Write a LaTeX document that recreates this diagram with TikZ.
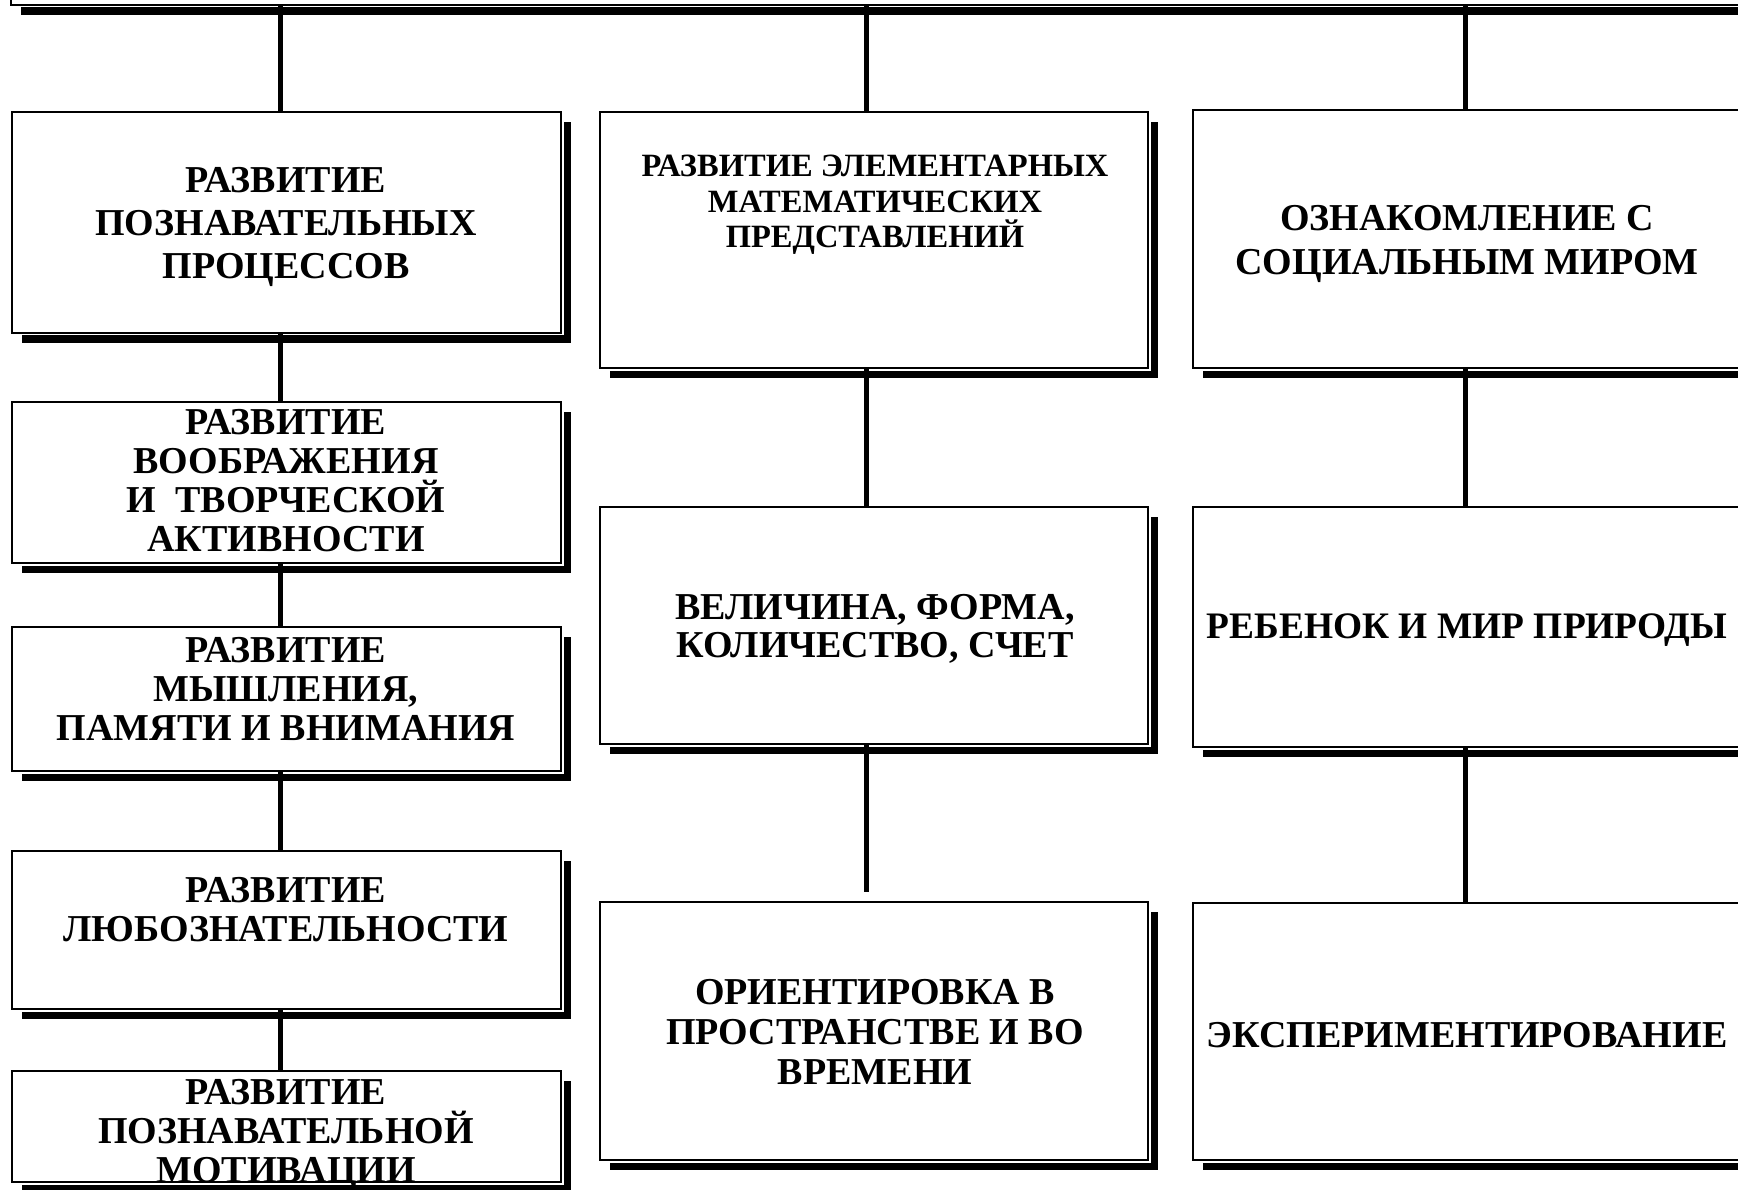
\documentclass[tikz,border=0pt]{standalone}
\usepackage{fontspec}
\setmainfont{Liberation Serif}
\usetikzlibrary{shadows}
\begin{document}
\begin{tikzpicture}[x=1pt,y=-1pt,
  boxstyle/.style={draw=black, line width=1.8pt, fill=white, inner sep=0pt, outer sep=0pt,
     drop shadow={shadow xshift=10pt, shadow yshift=-10pt, fill=black, opacity=1},
     preaction={draw=white, line width=5pt}},
  txt/.style={align=center, inner sep=0pt, font=\bfseries\fontsize{38}{39}\selectfont},
  link/.style={draw=black, line width=5pt}]
\useasboundingbox (0,0) rectangle (1738,1190);
\clip (0,0) rectangle (1738,1190);
\fill[white] (0,0) rectangle (1738,1190);
% root (top, mostly outside the picture)
\node[boxstyle, minimum width=1789pt, minimum height=105pt] (root) at (905.5,-47.5) {};
% column 1
\node[boxstyle, minimum width=549pt, minimum height=221pt] (p1) at (286.5,222.5) {};
\node[boxstyle, minimum width=549pt, minimum height=161pt] (p2) at (286.5,482.5) {};
\node[boxstyle, minimum width=549pt, minimum height=144pt] (p3) at (286.5,699) {};
\node[boxstyle, minimum width=549pt, minimum height=158pt] (p4) at (286.5,930) {};
\node[boxstyle, minimum width=549pt, minimum height=111pt] (p5) at (286.5,1126.5) {};
% column 2
\node[boxstyle, minimum width=548pt, minimum height=256pt] (m1) at (874,240) {};
\node[boxstyle, minimum width=548pt, minimum height=237pt] (m2) at (874,625.5) {};
\node[boxstyle, minimum width=548pt, minimum height=258pt] (m3) at (874,1031) {};
% column 3
\node[boxstyle, minimum width=549pt, minimum height=258pt] (s1) at (1467.5,239) {};
\node[boxstyle, minimum width=549pt, minimum height=240pt] (s2) at (1467.5,627) {};
\node[boxstyle, minimum width=549pt, minimum height=257pt] (s3) at (1467.5,1031.5) {};
% texts
\node[txt, font=\bfseries\fontsize{38}{43}\selectfont] (tp1) at (286,226.5) {РАЗВИТИЕ\\ПОЗНАВАТЕЛЬНЫХ\\ПРОЦЕССОВ};
\node[txt] (tp2) at (286,481) {РАЗВИТИЕ\\ВООБРАЖЕНИЯ\\И\ \ ТВОРЧЕСКОЙ\\АКТИВНОСТИ};
\node[txt] (tp3) at (286,688.5) {РАЗВИТИЕ\\МЫШЛЕНИЯ,\\ПАМЯТИ И ВНИМАНИЯ};
\node[txt] (tp4) at (286,910) {РАЗВИТИЕ\\ЛЮБОЗНАТЕЛЬНОСТИ};
\node[txt] (tp5) at (286,1135) {РАЗВИТИЕ\\ПОЗНАВАТЕЛЬНОЙ\\МОТИВАЦИИ};
\node[txt, font=\bfseries\fontsize{32.5}{35.5}\selectfont] (tm1) at (875,205) {РАЗВИТИЕ ЭЛЕМЕНТАРНЫХ\\МАТЕМАТИЧЕСКИХ\\ПРЕДСТАВЛЕНИЙ};
\node[txt, font=\bfseries\fontsize{38}{38}\selectfont] (tm2) at (875,628.5) {ВЕЛИЧИНА, ФОРМА,\\КОЛИЧЕСТВО, СЧЕТ};
\node[txt, font=\bfseries\fontsize{38}{40}\selectfont] (tm3) at (875,1031.5) {ОРИЕНТИРОВКА В\\ПРОСТРАНСТВЕ И ВО\\ВРЕМЕНИ};
\node[txt, font=\bfseries\fontsize{38}{44}\selectfont] (ts1) at (1467,243.5) {ОЗНАКОМЛЕНИЕ С\\СОЦИАЛЬНЫМ МИРОМ};
\node[txt, font=\bfseries\fontsize{37.4}{39}\selectfont] (ts2) at (1467,630.5) {РЕБЕНОК И МИР ПРИРОДЫ};
\node[txt] (ts3) at (1467,1035) {ЭКСПЕРИМЕНТИРОВАНИЕ};
% connector x positions
\coordinate (k1) at (280,0);
\coordinate (k2) at (866,0);
\coordinate (k3) at (1465,0);
\coordinate (mend) at (866,892);
% connectors
\draw[link] (root.south -| k1) -- (p1.north -| k1);
\draw[link] (p1.south -| k1) -- (p2.north -| k1);
\draw[link] (p2.south -| k1) -- (p3.north -| k1);
\draw[link] (p3.south -| k1) -- (p4.north -| k1);
\draw[link] (p4.south -| k1) -- (p5.north -| k1);
\draw[link] (root.south -| k2) -- (m1.north -| k2);
\draw[link] (m1.south -| k2) -- (m2.north -| k2);
\draw[link] (m2.south -| k2) -- (mend);
\draw[link] (root.south -| k3) -- (s1.north -| k3);
\draw[link] (s1.south -| k3) -- (s2.north -| k3);
\draw[link] (s2.south -| k3) -- (s3.north -| k3);
\end{tikzpicture}
\end{document}
